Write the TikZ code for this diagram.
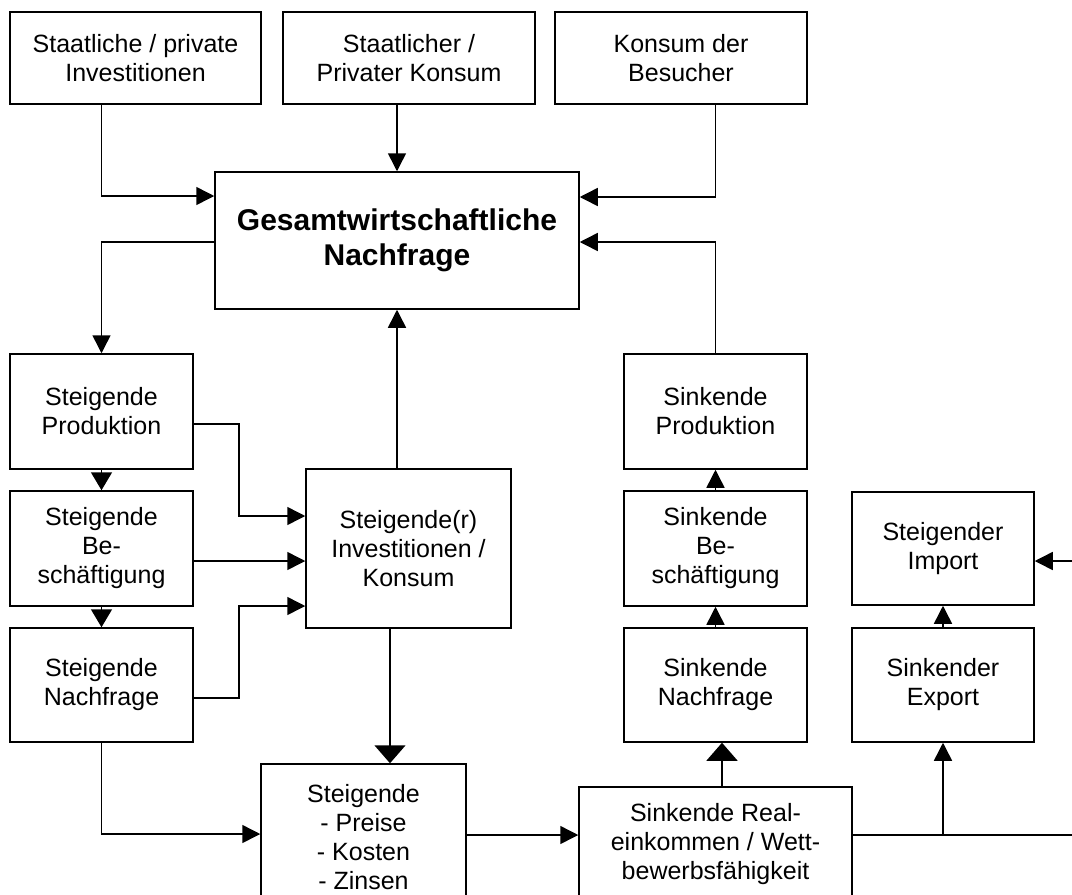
\documentclass[tikz,border=0pt]{standalone}
\usepackage{fontspec}
\setmainfont{Liberation Sans}
\usetikzlibrary{arrows.meta}

\begin{document}
\begin{tikzpicture}[x=1pt, y=-1pt, line width=1.5pt,
  box/.style={draw, align=center, inner sep=0pt, minimum width=#1,
    font=\fontsize{25}{29}\selectfont},
  arr/.style={-{Triangle[length=18pt, width=18pt]}},
  bigarr/.style={-{Triangle[length=18pt, width=31pt]}},
  smallarr/.style={-{Triangle[length=18pt, width=21pt]}}]
  \useasboundingbox (0,0) rectangle (1072,895);
  \clip (0,0) rectangle (1072,895);

  \node[box=251pt, minimum height=92pt] (inv) at (135.5,58) {Staatliche / private\\Investitionen};
  \node[box=252pt, minimum height=92pt] (kon) at (409,58) {Staatlicher /\\Privater Konsum};
  \node[box=252pt, minimum height=92pt] (bes) at (681,58) {Konsum der\\Besucher};
  \node[box=364pt, minimum height=137pt, font=\fontsize{30}{35}\selectfont\bfseries] (ges) at (397,240.5)
    {Gesamtwirtschaftliche\\Nachfrage};

  \node[box=183pt, minimum height=115pt] (sprod) at (101.5,411.5) {Steigende\\Produktion};
  \node[box=183pt, minimum height=115pt] (sbes) at (101.5,548.5) {Steigende\\Be-\\schäftigung};
  \node[box=183pt, minimum height=114pt] (snach) at (101.5,685) {Steigende\\Nachfrage};
  \node[box=205pt, minimum height=159pt] (sik) at (408.5,548.5) {Steigende(r)\\Investitionen /\\Konsum};
  \node[box=205pt, minimum height=146pt] (preise) at (363.5,837) {Steigende\\- Preise\\- Kosten\\- Zinsen};

  \node[box=183pt, minimum height=115pt] (kprod) at (715.5,411.5) {Sinkende\\Produktion};
  \node[box=183pt, minimum height=115pt] (kbes) at (715.5,548.5) {Sinkende\\Be-\\schäftigung};
  \node[box=183pt, minimum height=114pt] (knach) at (715.5,685) {Sinkende\\Nachfrage};
  \node[box=273pt, minimum height=114pt] (real) at (715.5,844) {Sinkende Real-\\einkommen / Wett-\\bewerbsfähigkeit};

  \node[box=182pt, minimum height=113pt] (imp) at (943,548.5) {Steigender\\Import};
  \node[box=182pt, minimum height=114pt] (exp) at (943,685) {Sinkender\\Export};

  \coordinate (edgeR) at (1080,835);
  \coordinate (edgeI) at (1080,561);

  % Zufluss zur Nachfrage
  \draw[arr] (inv.south -| sprod.north) |- ([yshift=44.5pt]ges.west);
  \draw[arr] (kon.south -| ges.north) -- (ges.north);
  \draw[arr] (bes.south -| kprod.north) |- ([yshift=43.5pt]ges.east);
  \draw[arr] (kprod.north) |- ([yshift=-1.5pt]ges.east);
  \draw[arr] ([yshift=-1.5pt]ges.west) -| (sprod.north);

  % linke Seite
  \draw[smallarr] (sprod.south) -- (sbes.north);
  \draw[smallarr] (sbes.south) -- (snach.north);
  \draw[arr] ([yshift=-12.5pt]sprod.east) -- ++(45,0) |- ([yshift=32.5pt]sik.west);
  \draw[arr] ([yshift=-12.5pt]sbes.east) -- ([yshift=-12.5pt]sik.west);
  \draw[arr] ([yshift=-13pt]snach.east) -- ++(45,0) |- ([yshift=-57.5pt]sik.west);
  \draw[arr] (sik.north -| ges.south) -- (ges.south);
  \draw[bigarr] ([xshift=-18.5pt]sik.south) -- ([xshift=26.5pt]preise.north);
  \draw[arr] (snach.south) |- ([yshift=3pt]preise.west);
  \draw[arr] ([yshift=2pt]preise.east) -- ([yshift=2pt]preise.east -| real.west);

  % rechte Seite
  \draw[bigarr] ([xshift=6.5pt]real.north) -- ([xshift=6.5pt]knach.south);
  \draw[arr] (knach.north) -- (kbes.south);
  \draw[arr] (kbes.north) -- (kprod.south);
  \draw (edgeR -| real.east) -- (edgeR);
  \draw[arr] (edgeR -| exp.south) -- (exp.south);
  \draw[arr] (exp.north) -- (imp.south);
  \draw[arr] (edgeI) -- (edgeI -| imp.east);
\end{tikzpicture}
\end{document}
